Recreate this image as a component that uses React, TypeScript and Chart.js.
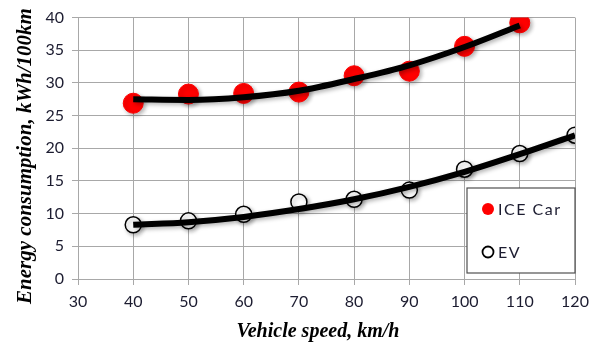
import React, { useEffect, useRef } from 'react';
import { Chart, registerables } from 'chart.js';
Chart.register(...registerables);

const iceSpeeds = [40, 50, 60, 70, 80, 90, 100, 110];
const iceValues = [26.9, 28.3, 28.4, 28.6, 31.1, 31.8, 35.6, 39.2];
const iceTrend = [27.5, 27.4, 27.8, 28.8, 30.6, 32.7, 35.5, 38.8];
const evSpeeds = [40, 50, 60, 70, 80, 90, 100, 110, 120];
const evValues = [8.3, 8.9, 9.9, 11.8, 12.2, 13.6, 16.8, 19.2, 22.0];
const evTrend = [8.3, 8.7, 9.5, 10.7, 12.2, 14.1, 16.4, 19.1, 22.0];
const xTicks = [30, 40, 50, 60, 70, 80, 90, 100, 110, 120];
const yTicks = [0, 5, 10, 15, 20, 25, 30, 35, 40];
const xTitle = 'Vehicle speed, km/h';
const yTitle = 'Energy consumption, kWh/100km';
const legendLabels = ['ICE Car', 'EV'];

const pts = (xs: number[], ys: number[]) => xs.map((x, i) => ({ x, y: ys[i] }));

const shadow = {
  id: 'shadow',
  beforeDatasetsDraw(chart: any) {
    const ctx = chart.ctx;
    ctx.save();
    ctx.shadowColor = 'rgba(0,0,0,0.3)';
    ctx.shadowBlur = 4;
    ctx.shadowOffsetX = 2;
    ctx.shadowOffsetY = 2;
  },
  afterDatasetsDraw(chart: any) {
    chart.ctx.restore();
  },
};

const decor = {
  id: 'decor',
  afterDraw(chart: any) {
    const ctx = chart.ctx;
    ctx.save();
    ctx.fillStyle = '#000';
    ctx.font = 'bold italic 20px "Liberation Serif"';
    ctx.textAlign = 'center';
    ctx.textBaseline = 'alphabetic';
    ctx.fillText(xTitle, 318, 337);
    ctx.save();
    ctx.translate(31, 156);
    ctx.rotate(-Math.PI / 2);
    ctx.font = 'bold italic 21px "Liberation Serif"';
    ctx.fillText(yTitle, 0, 0);
    ctx.restore();
    // legend
    const lx = 467, ly = 188, lw = 108, lh = 85;
    ctx.fillStyle = '#fff';
    ctx.fillRect(lx, ly, lw, lh);
    ctx.strokeStyle = '#505050';
    ctx.lineWidth = 1.2;
    ctx.strokeRect(lx, ly, lw, lh);
    ctx.beginPath();
    ctx.arc(488, 209, 6, 0, Math.PI * 2);
    ctx.fillStyle = '#ff0000';
    ctx.fill();
    ctx.beginPath();
    ctx.arc(488, 252, 5.5, 0, Math.PI * 2);
    ctx.fillStyle = '#fff';
    ctx.fill();
    ctx.strokeStyle = '#000';
    ctx.lineWidth = 1.8;
    ctx.stroke();
    ctx.fillStyle = '#1c1c30';
    ctx.font = '16px Lato';
    ctx.textAlign = 'left';
    ctx.textBaseline = 'middle';
    try { (ctx as any).letterSpacing = '1.5px'; } catch (e) {}
    ctx.fillText(legendLabels[0], 498, 210);
    ctx.fillText(legendLabels[1], 498, 253);
    ctx.restore();
  },
};

export default function App() {
  const ref = useRef<HTMLCanvasElement>(null);
  useEffect(() => {
    document.body.style.margin = '0';
    const chart = new Chart(ref.current!, {
      type: 'scatter',
      data: {
        datasets: [
          {
            label: 'ICE trend',
            data: pts(iceSpeeds, iceTrend),
            showLine: true,
            borderColor: '#000',
            borderWidth: 6,
            pointRadius: 0,
            cubicInterpolationMode: 'monotone',
            order: 0,
          } as any,
          {
            label: 'EV trend',
            data: pts(evSpeeds, evTrend),
            showLine: true,
            borderColor: '#000',
            borderWidth: 6,
            pointRadius: 0,
            cubicInterpolationMode: 'monotone',
            order: 0,
          },
          {
            label: legendLabels[0],
            data: pts(iceSpeeds, iceValues),
            backgroundColor: '#ff0000',
            borderColor: '#ff0000',
            pointRadius: 10,
            order: 1,
          },
          {
            label: legendLabels[1],
            data: pts(evSpeeds, evValues),
            backgroundColor: '#fff',
            borderColor: '#000',
            borderWidth: 1.5,
            pointRadius: 8,
            order: 1,
          },
        ],
      },
      options: {
        animation: false,
        responsive: false,
        maintainAspectRatio: false,
        layout: { padding: { left: 0, right: 21, top: 14, bottom: 0 } },
        plugins: { legend: { display: false }, tooltip: { enabled: false } },
        scales: {
          x: {
            type: 'linear',
            min: 30,
            max: 120,
            afterBuildTicks: (s: any) => { s.ticks = xTicks.map((v) => ({ value: v })); },
            afterFit: (s: any) => { s.height = 65; },
            ticks: { font: { family: 'Lato', size: 16 }, color: '#1c1c30', padding: 7 },
            grid: { color: '#a8a8a8', lineWidth: 1, tickLength: 6 },
            border: { color: '#a8a8a8' },
          },
          y: {
            min: 0,
            max: 40,
            afterBuildTicks: (s: any) => { s.ticks = yTicks.map((v) => ({ value: v })); },
            afterFit: (s: any) => { s.width = 78; },
            ticks: { font: { family: 'Lato', size: 16 }, color: '#1c1c30', padding: 8 },
            grid: { color: '#a8a8a8', lineWidth: 1, tickLength: 6 },
            border: { color: '#a8a8a8' },
          },
        },
      },
      plugins: [shadow, decor],
    });
    return () => chart.destroy();
  }, []);
  return (
    <div style={{ width: 596, height: 344 }}>
      <canvas ref={ref} width={596} height={344} style={{ display: 'block' }} />
    </div>
  );
}
